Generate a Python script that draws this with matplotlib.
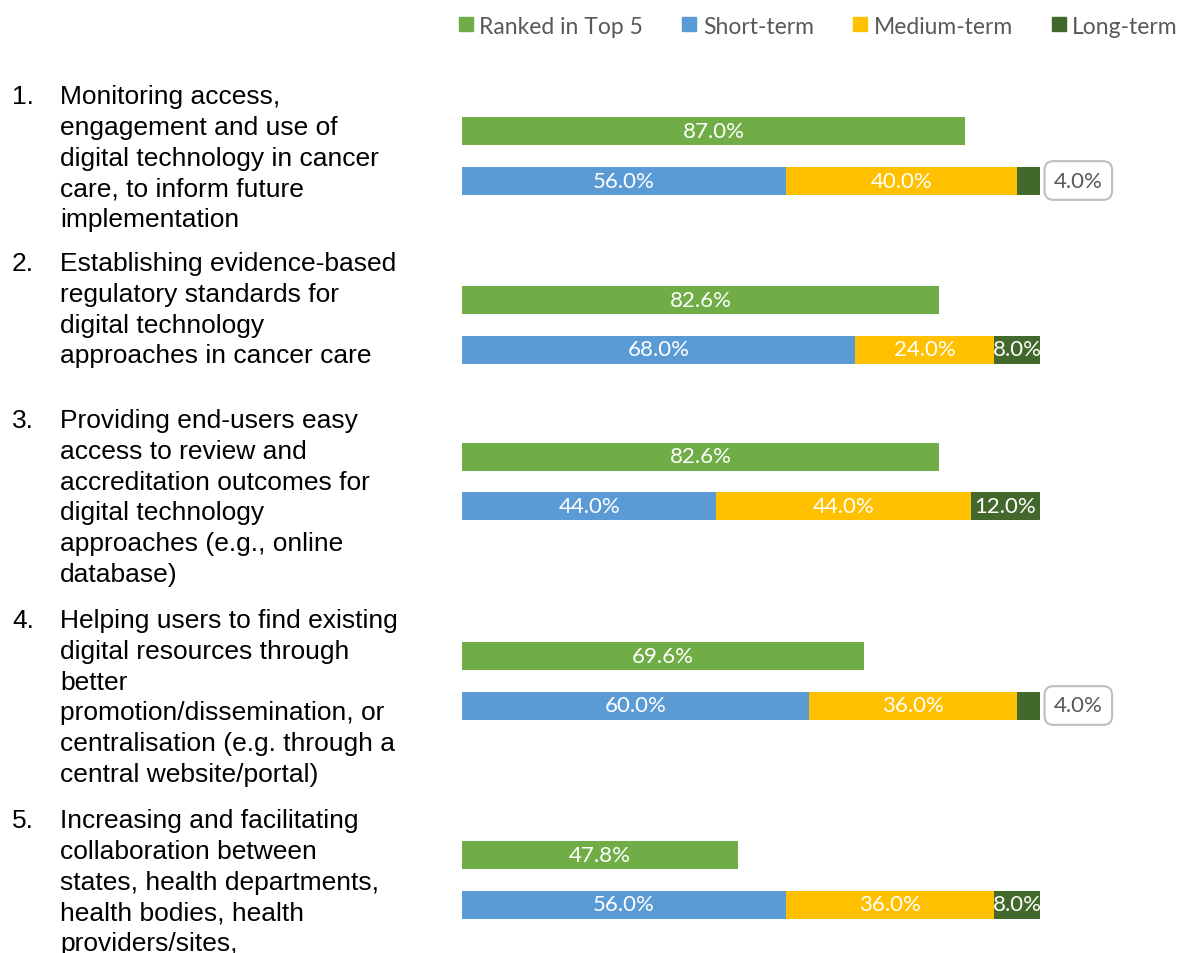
import matplotlib
matplotlib.use("Agg")
import matplotlib.pyplot as plt
from matplotlib.lines import Line2D

# ---- data ----
item_numbers = ["1.", "2.", "3.", "4.", "5."]
item_lines = [
    ["Monitoring access,", "engagement and use of", "digital technology in cancer",
     "care, to inform future", "implementation"],
    ["Establishing evidence-based", "regulatory standards for", "digital technology",
     "approaches in cancer care"],
    ["Providing end-users easy", "access to review and", "accreditation outcomes for",
     "digital technology", "approaches (e.g., online", "database)"],
    ["Helping users to find existing", "digital resources through", "better",
     "promotion/dissemination, or", "centralisation (e.g. through a",
     "central website/portal)"],
    ["Increasing and facilitating", "collaboration between", "states, health departments,",
     "health bodies, health", "providers/sites,"],
]
series_names = ["Ranked in Top 5", "Short-term", "Medium-term", "Long-term"]
ranked_top5 = [87.0, 82.6, 82.6, 69.6, 47.8]
short_term = [56.0, 68.0, 44.0, 60.0, 56.0]
medium_term = [40.0, 24.0, 44.0, 36.0, 36.0]
long_term = [4.0, 8.0, 12.0, 4.0, 8.0]

# ---- layout (pixel coords, figure 1178x954) ----
W, H = 1178, 954
colors = ["#70AD47", "#5B9BD5", "#FFC000", "#43682B"]
green_y = [132, 301, 457.5, 657, 856]
stack_offset = 49.5
bar_h = 28
text_start_y = [97, 264, 421, 621, 821]
line_step = 30.8
label_font = "Lato"

fig = plt.figure(figsize=(W / 100, H / 100), dpi=100)
ax = fig.add_axes([462 / W, 0, 578 / W, 1])
ax.set_xlim(0, 100)
ax.set_ylim(H, 0)
ax.axis("off")

stack_y = [g + stack_offset for g in green_y]

def seg_label(x, y, v):
    ax.text(x, y, f"{v:.1f}%", ha="center", va="center", color="white",
            fontsize=16, family=label_font)

bars = ax.barh(green_y, ranked_top5, height=bar_h, color=colors[0])
for b, v in zip(bars, ranked_top5):
    seg_label(b.get_x() + b.get_width() / 2, b.get_y() + bar_h / 2, v)

left = [0.0] * len(short_term)
for vals, col in zip([short_term, medium_term, long_term], colors[1:]):
    bs = ax.barh(stack_y, vals, left=left, height=bar_h, color=col)
    for b, v in zip(bs, vals):
        cx = b.get_x() + b.get_width() / 2
        cy = b.get_y() + bar_h / 2
        if v < 6:
            ax.annotate(f"{v:.1f}%", xy=(b.get_x() + b.get_width(), cy),
                        xytext=(10, 0), textcoords="offset points",
                        ha="left", va="center", color="#595959", fontsize=16,
                        family=label_font, annotation_clip=False,
                        bbox=dict(boxstyle="round,pad=0.42,rounding_size=0.4",
                                  fc="white", ec="#BFBFBF", lw=1.5))
        else:
            seg_label(cx, cy, v)
    left = [l + v for l, v in zip(left, vals)]

# left text list
for num, lines, y0 in zip(item_numbers, item_lines, text_start_y):
    fig.text(12 / W, 1 - y0 / H, num, ha="left", va="center", fontsize=19,
             family="Liberation Sans", color="black")
    for i, ln in enumerate(lines):
        fig.text(60 / W, 1 - (y0 + i * line_step) / H, ln, ha="left", va="center",
                 fontsize=19, family="Liberation Sans", color="black")

# legend
handles = [Line2D([], [], marker="s", linestyle="none", markersize=10,
                  markerfacecolor=c, markeredgecolor=c) for c in colors]
leg = fig.legend(handles, series_names, loc="center right",
                 bbox_to_anchor=(1.0, 1 - 27 / H), ncol=4, frameon=False,
                 handlelength=0.5, handletextpad=0.35, columnspacing=1.75,
                 borderaxespad=0.0, borderpad=0.0,
                 prop={"family": label_font, "size": 16.5})
for t in leg.get_texts():
    t.set_color("#595959")

fig.savefig("out.png", dpi=100)
